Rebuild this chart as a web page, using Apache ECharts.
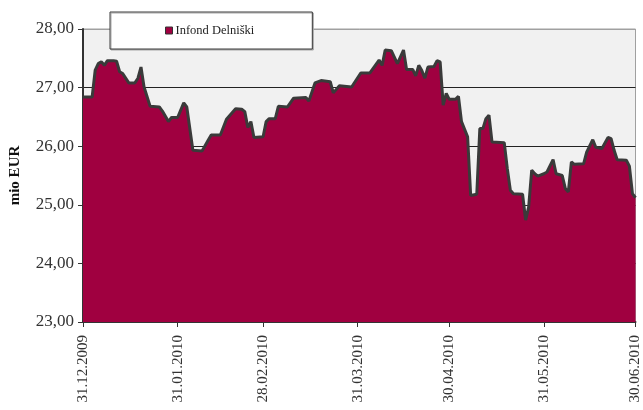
<!DOCTYPE html>
<html>
<head>
<meta charset="utf-8">
<script src="https://cdn.jsdelivr.net/npm/echarts@6/dist/echarts.min.js"></script>
<style>html,body{margin:0;padding:0;background:#fff;}#c{width:643px;height:410px;}</style>
</head>
<body>
<div id="c"></div>
<script>
const seriesName = 'Infond Delniški';
const dates = [
 '2009-12-31','2010-01-03','2010-01-04','2010-01-05','2010-01-06','2010-01-07','2010-01-08','2010-01-10','2010-01-11','2010-01-12',
 '2010-01-13','2010-01-15','2010-01-17','2010-01-18','2010-01-19','2010-01-20','2010-01-22','2010-01-25','2010-01-26','2010-01-28',
 '2010-01-29','2010-01-31','2010-02-02','2010-02-03','2010-02-05','2010-02-08','2010-02-10','2010-02-11','2010-02-14','2010-02-16',
 '2010-02-19','2010-02-21','2010-02-22','2010-02-23','2010-02-24','2010-02-25','2010-02-28','2010-03-01','2010-03-02','2010-03-04',
 '2010-03-05','2010-03-08','2010-03-10','2010-03-14','2010-03-15','2010-03-17','2010-03-19','2010-03-22','2010-03-23','2010-03-25',
 '2010-03-29','2010-04-01','2010-04-04','2010-04-07','2010-04-08','2010-04-09','2010-04-11','2010-04-13','2010-04-15','2010-04-16',
 '2010-04-18','2010-04-19','2010-04-20','2010-04-21','2010-04-22','2010-04-23','2010-04-25','2010-04-26','2010-04-27','2010-04-28',
 '2010-04-29','2010-04-30','2010-05-02','2010-05-03','2010-05-04','2010-05-06','2010-05-07','2010-05-09','2010-05-10','2010-05-11',
 '2010-05-12','2010-05-13','2010-05-14','2010-05-18','2010-05-19','2010-05-20','2010-05-21','2010-05-24','2010-05-25','2010-05-26',
 '2010-05-27','2010-05-28','2010-05-29','2010-05-31','2010-06-01','2010-06-03','2010-06-04','2010-06-06','2010-06-07','2010-06-08',
 '2010-06-09','2010-06-10','2010-06-13','2010-06-14','2010-06-16','2010-06-17','2010-06-19','2010-06-21','2010-06-22','2010-06-23',
 '2010-06-24','2010-06-27','2010-06-28','2010-06-29','2010-06-30'
];
const values = [
 26.84,26.84,27.30,27.41,27.44,27.38,27.46,27.46,27.45,27.27,
 27.24,27.08,27.08,27.16,27.35,27.01,26.68,26.67,26.60,26.42,
 26.49,26.49,26.74,26.67,25.93,25.92,26.10,26.19,26.19,26.46,
 26.64,26.63,26.59,26.32,26.42,26.15,26.16,26.42,26.47,26.47,
 26.68,26.67,26.82,26.83,26.77,27.08,27.12,27.10,26.91,27.03,
 27.01,27.25,27.25,27.47,27.38,27.64,27.63,27.41,27.64,27.31,
 27.31,27.20,27.38,27.29,27.16,27.35,27.36,27.46,27.44,26.70,
 26.90,26.80,26.80,26.85,26.42,26.16,25.16,25.18,26.30,26.30,
 26.47,26.53,26.07,26.06,25.62,25.25,25.19,25.18,24.74,24.96,
 25.59,25.53,25.49,25.53,25.56,25.77,25.53,25.50,25.28,25.22,
 25.73,25.69,25.70,25.90,26.11,25.98,25.96,26.15,26.13,25.93,
 25.77,25.76,25.66,25.19,25.12
];
const tickDates = ['2009-12-31','2010-01-31','2010-02-28','2010-03-31','2010-04-30','2010-05-31','2010-06-30'];
const yTicks = [23,24,25,26,27,28];
const yName = 'mio EUR';

const DAY = 86400000;
function ts(s){ const p = s.split('-').map(Number); return Date.UTC(p[0], p[1]-1, p[2]); }
const t0 = ts(tickDates[0]);
function dayOf(s){ return Math.round((ts(s) - t0) / DAY); }
function pad(n){ return (n<10?'0':'')+n; }
function fmtDay(v){ const d = new Date(t0 + Math.round(v) * DAY); return pad(d.getUTCDate())+'.'+pad(d.getUTCMonth()+1)+'.'+d.getUTCFullYear(); }

const data = dates.map((d,i)=>[dayOf(d), values[i]]);
const tickDays = tickDates.map(dayOf);
const serif = '"Liberation Serif", "DejaVu Serif", serif';

const chart = echarts.init(document.getElementById('c'));
chart.setOption({
  animation: false,
  backgroundColor: '#ffffff',
  grid: {
    left: 83, right: 7, top: 29, bottom: 88,
    show: true, backgroundColor: '#f1f1f1', borderColor: '#a0a0a0', borderWidth: 1
  },
  legend: {
    left: 110, top: 12,
    padding: [12, 58, 12, 55],
    backgroundColor: '#ffffff', borderColor: '#3a3a3a', borderWidth: 1,
    shadowColor: '#a8a8a8', shadowOffsetX: 1, shadowOffsetY: 1, shadowBlur: 0,
    itemWidth: 7, itemHeight: 7, itemGap: 3,
    icon: 'rect',
    textStyle: { fontFamily: serif, fontSize: 12.5, color: '#222', padding: [0,0,0,-2] },
    data: [{ name: seriesName, itemStyle: { color: '#a00040', borderColor: '#333', borderWidth: 1 } }]
  },
  xAxis: {
    type: 'value',
    min: tickDays[0], max: tickDays[tickDays.length-1],
    axisLine: { show: true, onZero: false, lineStyle: { color: '#333', width: 2 } },
    axisTick: { show: true, customValues: tickDays, length: 5, lineStyle: { color: '#333', width: 1 } },
    axisLabel: {
      customValues: tickDays, rotate: 90, margin: 13,
      formatter: fmtDay,
      fontFamily: serif, fontSize: 15, color: '#333'
    },
    splitLine: { show: false }
  },
  yAxis: {
    type: 'value',
    min: yTicks[0], max: yTicks[yTicks.length-1], interval: 1,
    name: yName, nameLocation: 'middle', nameRotate: 90, nameGap: 60,
    nameTextStyle: { fontFamily: serif, fontSize: 15, fontWeight: 'bold', color: '#111' },
    axisLine: { show: true, lineStyle: { color: '#333', width: 2 } },
    axisTick: { show: true, inside: false, length: 5, lineStyle: { color: '#333' } },
    axisLabel: {
      margin: 9, fontFamily: serif, fontSize: 17, color: '#333',
      formatter: v => v.toFixed(2).replace('.', ',')
    },
    splitLine: { show: true, lineStyle: { color: ['#222','#222','#222','#222','#222','#a0a0a0'], width: 1 } }
  },
  series: [{
    name: seriesName,
    type: 'line',
    data: data,
    symbol: 'none',
    z: 3,
    lineStyle: { color: '#3a3a3a', width: 3 },
    itemStyle: { color: '#a00040' },
    areaStyle: { color: '#a00040', opacity: 1, origin: 'start' }
  }]
});
</script>
</body>
</html>
